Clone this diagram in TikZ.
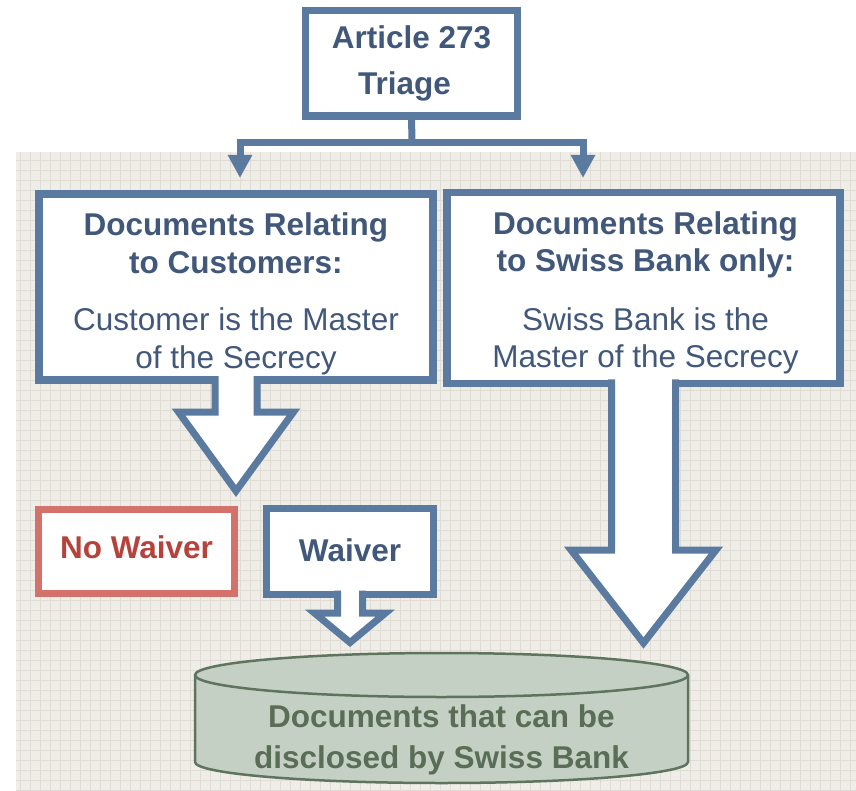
\documentclass[tikz,border=0pt]{standalone}
\usepackage{fontspec}
\setmainfont{Liberation Sans}
\usetikzlibrary{arrows.meta,calc}

\definecolor{boxblue}{HTML}{5B7A9F}
\definecolor{textblue}{HTML}{41587A}
\definecolor{waivred}{HTML}{D4716A}
\definecolor{waivtext}{HTML}{B5433B}
\definecolor{cylfill}{HTML}{C5D0C4}
\definecolor{cylline}{HTML}{5E745F}
\definecolor{cyltext}{HTML}{5A6D56}
\definecolor{bgfill}{HTML}{EFEDE8}
\definecolor{bggrid}{HTML}{E0DCD3}

% hollow down arrow under a box: anchor, half shaft, shaft length, half head, head length
\newcommand{\blockdown}[5]{%
  \fill[white] ($(#1)+(-#2,-4)$) -- ($(#1)+(-#2,#3)$) -- ($(#1)+(-#4,#3)$) -- ($(#1)+(0,#3+#5)$)
    -- ($(#1)+(#4,#3)$) -- ($(#1)+(#2,#3)$) -- ($(#1)+(#2,-4)$) -- cycle;
  \draw[blockline] ($(#1)+(-#2,-4)$) -- ($(#1)+(-#2,#3)$) -- ($(#1)+(-#4,#3)$) -- ($(#1)+(0,#3+#5)$)
    -- ($(#1)+(#4,#3)$) -- ($(#1)+(#2,#3)$) -- ($(#1)+(#2,-4)$);}

\begin{document}
\begin{tikzpicture}[x=1pt,y=-1pt, every node/.style={font=\fontsize{31.5}{37.5}\selectfont}]
				\tikzstyle{bluebox} = [draw=boxblue, line width=7.5pt, fill=white, outer sep=0pt, inner sep=0pt, align=center, text=textblue]
				\tikzstyle{redbox} = [bluebox, draw=waivred, text=waivtext]
				\tikzstyle{boxtext} = [align=center, text=textblue, inner sep=0pt]
				\tikzstyle{link} = [draw=boxblue, line width=7pt]
				\tikzstyle{blockline} = [draw=boxblue, line width=7pt]
				\tikzstyle{cylinderline} = [draw=cylline, line width=2.5pt]
				
				\useasboundingbox (0,0) rectangle (856,791);
				\fill[bgfill] (16,152) rectangle (856,791);
				\foreach \gx in {20,30,...,850} \draw[bggrid, line width=0.6pt] (\gx,152) -- (\gx,791);
				\foreach \gy in {160,170,...,790} \draw[bggrid, line width=0.6pt] (16,\gy) -- (856,\gy);
				
				\node[bluebox, minimum width=212, minimum height=105.5] (triage) at (411.5,63.25) {\textbf{Article 273}\\[8pt]\textbf{Triage}\hspace*{14pt}};
				\coordinate (fork) at (412,143);
				\coordinate (tipL) at (240,178);
				\coordinate (tipR) at (583,178);
				
				\node[bluebox, minimum width=394, minimum height=186] (cust) at (236,287) {};
				\node[boxtext] (custtext) at ($(cust.center)+(0,7)$) {\textbf{Documents Relating}\\\textbf{to Customers:}\\[20pt]Customer is the Master\\of the Secrecy};
				\node[bluebox, minimum width=393, minimum height=190.5] (bank) at (643.5,288) {};
				\node[boxtext] (banktext) at ($(bank.center)+(2,5)$) {\textbf{Documents Relating}\\\textbf{to Swiss Bank only:}\\[21pt]Swiss Bank is the\\Master of the Secrecy};
				
				\node[redbox, minimum width=196, minimum height=84, text depth=9pt] (nowaiver) at (136.5,551.5) {\textbf{No Waiver}};
				\node[bluebox, minimum width=167, minimum height=86, text depth=3pt] (waiver) at (350,551.5) {\textbf{Waiver}};
				
				\draw[link] (triage.south) -- (fork);
				\draw[link, -{Triangle[width=23pt,length=23pt]}] (fork) -| (tipL);
				\draw[link, -{Triangle[width=23pt,length=23pt]}] (fork) -| (tipR);
				
				\blockdown{cust.south}{21}{32}{57.5}{79}
				\blockdown{bank.south}{32}{166.75}{72.5}{93}
				\blockdown{waiver.south}{12.5}{18.5}{35.5}{29.5}
				
				\draw[cylinderline, fill=cylfill] (195,675) -- (195,762) arc[start angle=180, end angle=360, x radius=246.5pt, y radius=21pt]
					-- (688,675) arc[start angle=0, end angle=180, x radius=246.5pt, y radius=22pt] -- cycle;
				\draw[cylinderline] (688,675) arc[start angle=0, end angle=-180, x radius=246.5pt, y radius=22pt];
				\node[align=center, text=cyltext] (store) at (441.5,740) {\textbf{Documents that can be}\\[3pt]\textbf{disclosed by Swiss Bank}};
				
				\end{tikzpicture}
\end{document}
